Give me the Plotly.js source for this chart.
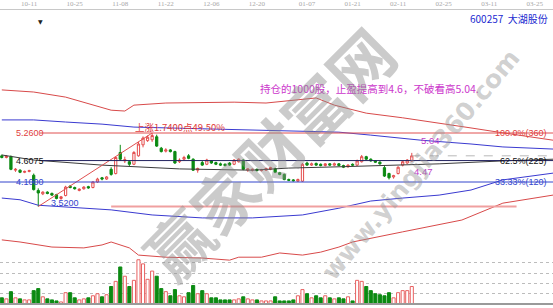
<!DOCTYPE html>
<html>
<head>
<meta charset="utf-8">
<script src="https://cdn.plot.ly/plotly-3.0.1.min.js"></script>
<style>
html,body{margin:0;padding:0;background:#fff;overflow:hidden}
#chart{width:553px;height:308px}
</style>
</head>
<body>
<div id="chart"></div>
<script>
// Top axis: every 10th trading day (index into the trading-day sequence)
const tickIdx  = [6, 16, 26, 36, 46, 56, 67, 77, 87, 97, 107, 117];
const tickText = ['10-11','10-25','11-08','11-22','12-06','12-20','01-07','01-21','02-11','02-25','03-11','03-25'];

// Daily candles, 600257 大湖股份
const open  = [4.72,4.68,4.70,4.38,4.38,4.33,4.35,4.26,3.90,3.82,3.86,3.83,3.80,3.71,3.78,4.00,3.97,3.90,3.94,3.99,
               3.97,4.10,4.20,4.17,4.40,4.30,4.80,4.60,4.58,4.52,4.72,4.98,5.08,5.10,5.17,4.90,4.83,4.86,4.82,4.58,
               4.64,4.72,4.64,4.38,4.56,4.52,4.60,4.56,4.53,4.52,4.55,4.52,4.58,4.62,4.38,4.38,4.40,4.37,4.38,4.40,
               4.42,4.32,4.28,4.16,4.15,4.12,4.12,4.55,4.50,4.54,4.52,4.49,4.53,4.50,4.53,4.49,4.46,4.52,4.50,4.58,
               4.70,4.64,4.60,4.57,4.44,4.30,4.22,4.30,4.50,4.55,4.60];
const high  = [4.75,4.74,4.73,4.43,4.40,4.37,4.39,4.30,3.95,3.88,3.88,3.85,3.82,3.77,4.01,4.03,3.99,3.95,4.00,4.01,
               4.12,4.20,4.22,4.24,4.45,4.70,4.98,4.70,4.61,4.83,5.05,5.18,5.20,5.26,5.22,4.93,4.90,4.88,4.84,4.66,
               4.72,4.76,4.66,4.44,4.60,4.65,4.62,4.58,4.56,4.54,4.57,4.64,4.66,4.64,4.43,4.42,4.42,4.41,4.44,4.46,
               4.44,4.34,4.30,4.18,4.17,4.18,4.55,4.58,4.56,4.56,4.54,4.55,4.55,4.56,4.55,4.51,4.52,4.54,4.63,4.74,
               4.72,4.66,4.62,4.59,4.50,4.32,4.27,4.47,4.60,4.64,4.79];
const low   = [4.66,4.66,4.38,4.34,4.31,4.31,4.33,3.90,3.52,3.79,3.81,3.77,3.69,3.68,3.76,3.95,3.92,3.88,3.92,3.94,
               3.95,4.08,4.14,4.15,4.25,4.28,4.60,4.55,4.48,4.50,4.70,4.92,5.05,5.05,4.93,4.80,4.80,4.80,4.53,4.55,
               4.62,4.64,4.36,4.32,4.48,4.50,4.53,4.50,4.48,4.47,4.48,4.50,4.56,4.38,4.34,4.35,4.35,4.35,4.36,4.38,
               4.31,4.26,4.14,4.12,4.11,4.10,4.10,4.48,4.48,4.48,4.47,4.47,4.48,4.48,4.47,4.43,4.44,4.48,4.48,4.56,
               4.62,4.58,4.55,4.51,4.22,4.16,4.18,4.28,4.47,4.53,4.58];
const close = [4.68,4.71,4.40,4.40,4.33,4.35,4.37,3.92,3.84,3.86,3.83,3.79,3.71,3.75,3.98,3.97,3.94,3.93,3.98,3.96,
               4.10,4.17,4.17,4.22,4.28,4.68,4.64,4.63,4.52,4.80,5.00,5.14,5.16,5.20,4.95,4.82,4.86,4.82,4.55,4.62,
               4.68,4.66,4.38,4.42,4.50,4.62,4.55,4.52,4.50,4.49,4.50,4.62,4.64,4.40,4.41,4.40,4.37,4.39,4.42,4.44,
               4.33,4.28,4.16,4.14,4.13,4.16,4.52,4.50,4.53,4.50,4.49,4.53,4.50,4.53,4.49,4.45,4.50,4.50,4.60,4.70,
               4.64,4.60,4.57,4.53,4.24,4.20,4.25,4.45,4.58,4.62,4.72];
const volume = [6,5,12,6,5,4,4,13,15,7,5,4,3,2,11,11,6,4,5,6,
                8,10,7,9,17,22,36,27,17,23,43,39,24,32,27,15,12,8,14,8,
                7,11,18,10,13,10,6,6,4,4,4,4,5,7,5,4,4,3,3,3,
                7,3,3,3,4,8,14,10,6,8,6,8,6,5,6,5,7,3,23,22,
                17,13,10,9,8,11,6,11,13,13,17];

// Channel lines (sampled on trading-day index, extended past the last session)
const upperRedX  = [0,4,7,14,20,24,27,29,36,51,58,66,69,73,80,88,95,103,109,121];
const upperRed   = [6.28,6.26,6.23,6.11,5.92,5.80,5.78,5.92,5.97,5.99,5.97,6.06,6.09,5.92,5.73,5.62,5.50,5.38,5.28,5.09];
const upperBlueX = [0,7,14,22,29,36,51,64,74,81,92,103,110,121];
const upperBlue  = [5.57,5.57,5.52,5.47,5.40,5.38,5.35,5.31,5.28,5.21,5.09,5.00,4.93,4.88];
const midLineX   = [0,7,22,29,39,55,63,74,81,96,110,121];
const midLine    = [4.74,4.62,4.50,4.46,4.41,4.38,4.43,4.46,4.48,4.53,4.60,4.64];
const lowerBlueX = [0,4,8,17,24,33,44,55,66,74,81,88,96,103,110,121];
const lowerBlue  = [3.72,3.68,3.55,3.49,3.44,3.32,3.25,3.25,3.32,3.48,3.65,3.72,3.79,3.91,4.15,4.31];
const lowerRedX  = [0,4,11,18,22,24,28,30,36,44,50,52,57,61,66,70,74,77,88,101,110,121];
const lowerRed   = [2.73,2.68,2.56,2.54,2.61,2.68,2.54,2.37,2.32,2.30,2.25,2.32,2.32,2.42,2.37,2.44,2.56,2.68,2.92,3.20,3.60,3.79];

// Golden-section levels between the swing low and swing high
const fibLevels  = [5.26, 4.6075, 4.10];
const fibPctText = ['100.0%(360)', '62.5%(225)', '33.33%(120)'];
const swingLow   = 3.52;
const swingHigh  = 5.26;
const swingLowIdx  = 8;
const swingHighIdx = 33;

const dayIdx = open.map((_, i) => i);
const lastIdx = dayIdx.length - 1;
const isUp = close.map((c, i) => c >= open[i]);

const UP = '#e44c4c', DOWN = '#0b8a12';
const fibColors = ['#e05050', '#22225e', '#3344cc'];
const fibStart  = [0.072, 0.072, 0.0];

const traces = [
  {type:'scatter', mode:'lines', x:upperRedX, y:upperRed, line:{color:'#d84a4a', width:1}, hoverinfo:'skip'},
  {type:'scatter', mode:'lines', x:lowerRedX, y:lowerRed, line:{color:'#d84a4a', width:1}, hoverinfo:'skip'},
  {type:'scatter', mode:'lines', x:upperBlueX, y:upperBlue, line:{color:'#3a3ad0', width:1}, hoverinfo:'skip'},
  {type:'scatter', mode:'lines', x:lowerBlueX, y:lowerBlue, line:{color:'#3a3ad0', width:1}, hoverinfo:'skip'},
  {type:'scatter', mode:'lines', x:midLineX, y:midLine, line:{color:'#3c3c3c', width:1}, hoverinfo:'skip'},
  // rise from the swing low to the swing high
  {type:'scatter', mode:'lines', x:[swingLowIdx, swingHighIdx], y:[swingLow, swingHigh],
   line:{color:'#e05050', width:1}, hoverinfo:'skip'},
  {type:'candlestick', x:dayIdx, open:open, high:high, low:low, close:close,
   increasing:{line:{color:UP, width:1}, fillcolor:'#ffffff'},
   decreasing:{line:{color:DOWN, width:1}, fillcolor:DOWN},
   whiskerwidth:0, hoverinfo:'skip'},
  {type:'bar', x:dayIdx, y:volume, yaxis:'y2', width:0.68,
   marker:{color:isUp.map(u => u ? '#ffffff' : DOWN),
           line:{color:isUp.map(u => u ? '#e86060' : DOWN), width:1}},
   hoverinfo:'skip'}
];

const shapes = [];
fibLevels.forEach((lv, i) => {
  shapes.push({type:'line', xref:'paper', yref:'y', x0:fibStart[i], x1:1, y0:lv, y1:lv,
               line:{color:fibColors[i], width:1}});
});
// support at the swing low
shapes.push({type:'line', xref:'x', yref:'y', x0:24, x1:113, y0:swingLow, y1:swingLow,
             line:{color:'#f0a0a0', width:2}});
// last close carried forward
shapes.push({type:'line', xref:'x', yref:'y', x0:lastIdx, x1:121, y0:close[lastIdx], y1:close[lastIdx],
             line:{color:'#b8b8b8', width:1, dash:'dash'}});
// bottom frame
shapes.push({type:'line', xref:'paper', yref:'paper', x0:0, x1:1, y0:0, y1:0,
             line:{color:'#9a9a9a', width:2}});

const numFont = 'Liberation Sans, Arial, sans-serif';
const cjkFont = 'Noto Sans CJK SC, sans-serif';
const ann = [];
const labelColors = ['#e04040', '#111111', '#3344cc'];
fibLevels.forEach((lv, i) => {
  ann.push({xref:'paper', yref:'y', x:14/553, y:lv, xanchor:'left', yanchor:'middle', showarrow:false,
            text:lv.toFixed(4), font:{family:numFont, size:9, color:labelColors[i]}});
  ann.push({xref:'paper', yref:'y', x:549/553, y:lv, xanchor:'right', yanchor:'middle', showarrow:false,
            text:fibPctText[i], font:{family:numFont, size:9, color:labelColors[i]}});
});
ann.push({xref:'x', yref:'y', x:swingLowIdx + 2.3, y:swingLow + 0.08, xanchor:'left', yanchor:'middle', showarrow:false,
          text:swingLow.toFixed(4), font:{family:numFont, size:9, color:'#3344cc'}});
ann.push({xref:'x', yref:'y', x:28.8, y:5.40, xanchor:'left', yanchor:'middle', showarrow:false,
          text:'上涨' + (swingHigh - swingLow).toFixed(4) + '点49.50%', font:{family:cjkFont, size:9.5, color:'#e03c3c'}});
ann.push({xref:'x', yref:'y', x:94, y:5.09, xanchor:'center', yanchor:'middle', showarrow:false,
          text:'5.04', font:{family:numFont, size:9.5, color:'#c040c8'}});
ann.push({xref:'x', yref:'y', x:92.5, y:4.36, xanchor:'center', yanchor:'middle', showarrow:false,
          text:'4.47', font:{family:numFont, size:9.5, color:'#c040c8'}});
ann.push({xref:'paper', yref:'paper', x:258/553, y:(304-89)/294, xanchor:'left', yanchor:'middle', showarrow:false,
          text:'持仓的1000股，止盈提高到4.6，不破看高5.04.', font:{family:cjkFont, size:10.5, color:'#cc36cc'}});
ann.push({xref:'paper', yref:'paper', x:550/553, y:(304-18)/294, xanchor:'right', yanchor:'middle', showarrow:false,
          text:'600257  大湖股份', font:{family:cjkFont, size:10, color:'#1a2ad0'}});
ann.push({xref:'paper', yref:'paper', x:40/553, y:(304-21)/294, xanchor:'center', yanchor:'middle', showarrow:false,
          text:'▼', font:{family:'DejaVu Sans', size:6, color:'#222222'}});
// site watermark
ann.push({xref:'paper', yref:'paper', x:268/553, y:(304-152)/294, xanchor:'center', yanchor:'middle', showarrow:false,
          text:'<b>赢家财富网</b>', textangle:-45, font:{family:cjkFont, size:64, color:'rgba(140,140,140,0.45)'}});
ann.push({xref:'paper', yref:'paper', x:420/553, y:(304-165)/294, xanchor:'center', yanchor:'middle', showarrow:false,
          text:'<b>www.yingjia360.com</b>', textangle:-50, font:{family:'DejaVu Sans, sans-serif', size:25, color:'rgba(150,150,150,0.45)'}});

const layout = {
  width:553, height:308,
  margin:{l:0, r:0, t:10, b:4},
  paper_bgcolor:'#ffffff', plot_bgcolor:'rgba(0,0,0,0)',
  showlegend:false,
  font:{family:numFont},
  xaxis:{range:[-0.4, 121], side:'top', tickmode:'array', tickvals:tickIdx, ticktext:tickText,
         tickfont:{family:'Liberation Serif, serif', size:7, color:'#a8a8a8'},
         showline:true, linecolor:'#c8c8c8', linewidth:1, ticks:'', showgrid:false, zeroline:false,
         rangeslider:{visible:false}, fixedrange:true},
  yaxis:{domain:[0,1], range:[1.212, 8.172], showticklabels:false, showgrid:false, zeroline:false,
         showline:false, ticks:'', fixedrange:true},
  yaxis2:{domain:[0,0.155], range:[0,44.3], anchor:'x', showticklabels:false, ticks:'',
          showgrid:true, gridcolor:'#bcbcbc', griddash:'dot', gridwidth:1, dtick:10,
          zeroline:false, showline:false, fixedrange:true},
  shapes:shapes,
  annotations:ann
};

Plotly.newPlot('chart', traces, layout, {staticPlot:true, displayModeBar:false});
</script>
</body>
</html>
